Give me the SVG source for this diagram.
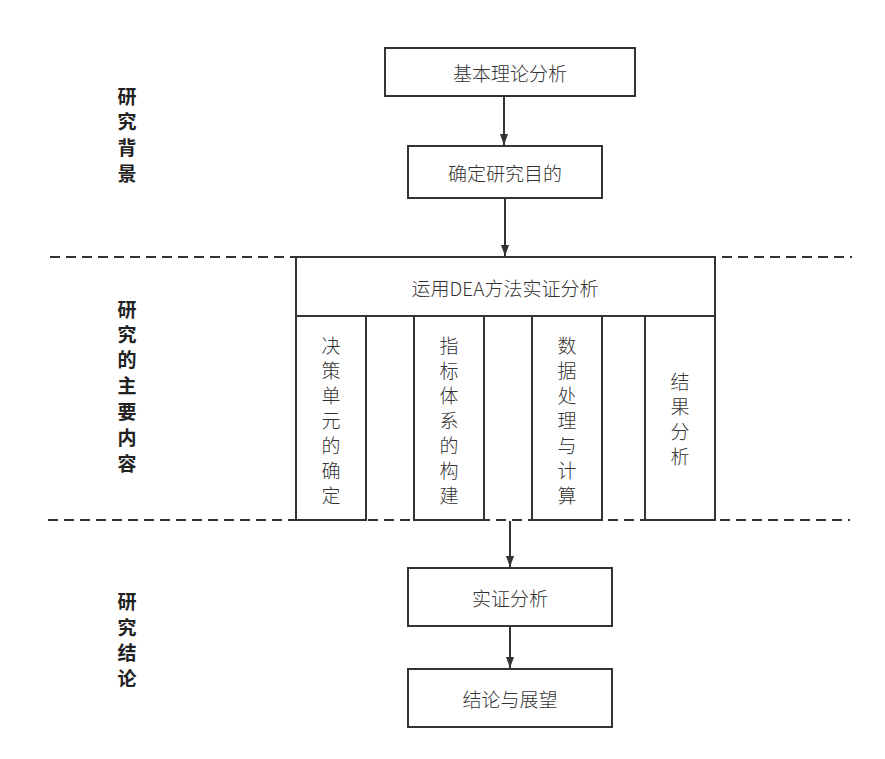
<svg xmlns="http://www.w3.org/2000/svg" width="885" height="759" viewBox="0 0 885 759">
<style>
.box{fill:#fff;stroke:#333;stroke-width:2}
.t{font-family:"Noto Sans CJK SC","Noto Sans",sans-serif;font-size:19px;font-weight:300;fill:#333;text-anchor:middle;dominant-baseline:central}
.lb{font-family:"Noto Sans CJK SC","Noto Sans",sans-serif;font-size:19px;font-weight:bold;fill:#222;text-anchor:middle;dominant-baseline:central}
.dash{stroke:#333;stroke-width:2;stroke-dasharray:10,6;fill:none}
.ln{stroke:#333;stroke-width:2;fill:none}
</style>
<defs>
<marker id="ah" markerWidth="11" markerHeight="15" refX="15" refY="5.5" orient="auto" markerUnits="userSpaceOnUse" viewBox="0 0 15 11">
<path d="M0,0 L15,5.5 L0,11 Z" fill="#333"/>
</marker>
</defs>
<rect width="885" height="759" fill="#fff"/>
<g id="dividers">
<line class="dash" x1="50" y1="257" x2="852" y2="257"/>
<line class="dash" x1="48" y1="520" x2="850" y2="520"/>
</g>
<g id="labels">
<text class="lb" x="127" y="95">研</text>
<text class="lb" x="127" y="120">究</text>
<text class="lb" x="127" y="146">背</text>
<text class="lb" x="127" y="172">景</text>
<text class="lb" x="127" y="308">研</text>
<text class="lb" x="127" y="333">究</text>
<text class="lb" x="127" y="358">的</text>
<text class="lb" x="127" y="384">主</text>
<text class="lb" x="127" y="410">要</text>
<text class="lb" x="127" y="436">内</text>
<text class="lb" x="127" y="462">容</text>
<text class="lb" x="127" y="600">研</text>
<text class="lb" x="127" y="626">究</text>
<text class="lb" x="127" y="651">结</text>
<text class="lb" x="127" y="677">论</text>
</g>
<g id="n1"><rect class="box" x="385" y="48" width="250" height="48"/><text class="t" x="510" y="72">基本理论分析</text></g>
<g id="n2"><rect class="box" x="408" y="146" width="194" height="52"/><text class="t" x="505" y="172">确定研究目的</text></g>
<g id="n3">
<rect class="box" x="296" y="257" width="419" height="59"/>
<text class="t" x="505" y="287">运用DEA方法实证分析</text>
</g>
<g id="c1"><rect class="box" x="296" y="316" width="70" height="204"/>
<text class="t" x="331" y="344">决</text><text class="t" x="331" y="369">策</text><text class="t" x="331" y="394">单</text><text class="t" x="331" y="419">元</text><text class="t" x="331" y="444">的</text><text class="t" x="331" y="469">确</text><text class="t" x="331" y="494">定</text></g>
<g id="c2"><rect class="box" x="414" y="316" width="70" height="204"/>
<text class="t" x="449" y="344">指</text><text class="t" x="449" y="369">标</text><text class="t" x="449" y="394">体</text><text class="t" x="449" y="419">系</text><text class="t" x="449" y="444">的</text><text class="t" x="449" y="469">构</text><text class="t" x="449" y="494">建</text></g>
<g id="c3"><rect class="box" x="532" y="316" width="70" height="204"/>
<text class="t" x="567" y="344">数</text><text class="t" x="567" y="369">据</text><text class="t" x="567" y="394">处</text><text class="t" x="567" y="419">理</text><text class="t" x="567" y="444">与</text><text class="t" x="567" y="469">计</text><text class="t" x="567" y="494">算</text></g>
<g id="c4"><rect class="box" x="645" y="316" width="70" height="204"/>
<text class="t" x="680" y="380">结</text><text class="t" x="680" y="405">果</text><text class="t" x="680" y="430">分</text><text class="t" x="680" y="455">析</text></g>
<g id="n4"><rect class="box" x="408" y="568" width="204" height="58"/><text class="t" x="510" y="597">实证分析</text></g>
<g id="n5"><rect class="box" x="408" y="669" width="204" height="58"/><text class="t" x="510" y="698">结论与展望</text></g>
<g id="connectors">
<line class="ln" x1="504" y1="96" x2="504" y2="145" marker-end="url(#ah)"/>
<line class="ln" x1="505" y1="198" x2="505" y2="256" marker-end="url(#ah)"/>
<line class="ln" x1="510" y1="521" x2="510" y2="567" marker-end="url(#ah)"/>
<line class="ln" x1="510" y1="626" x2="510" y2="668" marker-end="url(#ah)"/>
</g>
</svg>
